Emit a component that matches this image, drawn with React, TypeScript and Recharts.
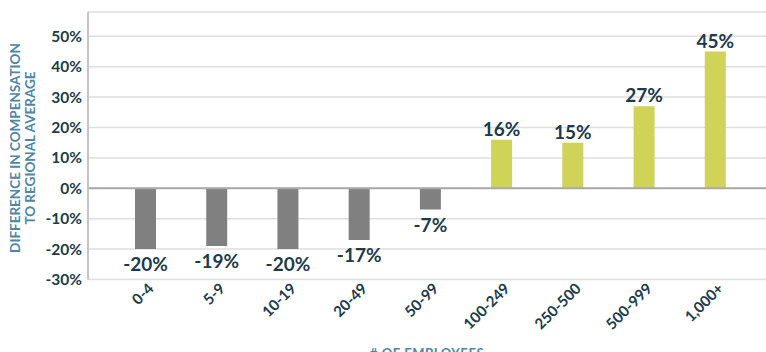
import React from "react";
import {
  BarChart,
  Bar,
  XAxis,
  YAxis,
  CartesianGrid,
  ReferenceLine,
  Cell,
  LabelList,
  Label,
} from "recharts";

const SIZES = ["0-4", "5-9", "10-19", "20-49", "50-99", "100-249", "250-500", "500-999", "1,000+"];
const DIFF_PCT = [-20, -19, -20, -17, -7, 16, 15, 27, 45];
const Y_TICKS = [-30, -20, -10, 0, 10, 20, 30, 40, 50];

const FONT = "Lato, 'Open Sans', sans-serif";
const NAVY = "#1c3a4a";
const STEEL = "#4f86a3";
const GRAY_BAR = "#808080";
const LIME_BAR = "#cfd356";

const data = SIZES.map((size, i) => ({ size, diff: DIFF_PCT[i] }));

function XTick(props: any) {
  const { x, y, payload } = props;
  const ax = x + 9;
  const ay = y + 10;
  return (
    <text
      x={ax}
      y={ay}
      transform={`rotate(-45 ${ax} ${ay})`}
      textAnchor="end"
      fontFamily={FONT}
      fontWeight={700}
      fontSize={15}
      fill={NAVY}
    >
      {payload.value}
    </text>
  );
}

function ValueLabel(props: any) {
  const { x, y, width, height, value } = props;
  const cx = x + width / 2;
  const top = Math.min(y, y + height);
  const bottom = Math.max(y, y + height);
  const ty = value >= 0 ? top - 4 : bottom + 22;
  return (
    <text
      x={cx}
      y={ty}
      textAnchor="middle"
      fontFamily={FONT}
      fontWeight={700}
      fontSize={19}
      fill={NAVY}
    >
      {`${value}%`}
    </text>
  );
}

function YTitle() {
  const cy = 148;
  const common = {
    fontFamily: FONT,
    fontWeight: 700,
    fontSize: 13.5,
    fill: STEEL,
    textAnchor: "middle" as const,
  };
  return (
    <g>
      <text {...common} x={20} y={cy} transform={`rotate(-90 20 ${cy})`}>
        DIFFERENCE IN COMPENSATION
      </text>
      <text {...common} x={35} y={cy} transform={`rotate(-90 35 ${cy})`}>
        TO REGIONAL AVERAGE
      </text>
    </g>
  );
}

function XTitle(props: any) {
  const { viewBox } = props;
  const cx = viewBox.x + viewBox.width / 2;
  return (
    <text
      x={cx}
      y={358}
      textAnchor="middle"
      fontFamily={FONT}
      fontWeight={700}
      fontSize={13}
      letterSpacing={0.6}
      fill={STEEL}
    >
      # OF EMPLOYEES
    </text>
  );
}

export default function App() {
  return (
    <div style={{ position: "absolute", left: 0, top: 0, width: 766, height: 352, background: "#fff", overflow: "hidden" }}>
      <BarChart
        width={766}
        height={352}
        data={data}
        margin={{ top: 12, right: 0, bottom: 0, left: 0 }}
        style={{ overflow: "hidden" }}
      >
        <CartesianGrid vertical={false} stroke="#dedede" strokeWidth={1.5} />
        <XAxis
          dataKey="size"
          height={72.5}
          axisLine={false}
          tickLine={false}
          tickSize={0}
          tickMargin={0}
          interval={0}
          padding={{ left: 22, right: 15 }}
          tick={<XTick />}
        >
          <Label content={<XTitle />} />
        </XAxis>
        <YAxis
          width={88}
          domain={[-30, 58]}
          ticks={Y_TICKS}
          allowDataOverflow
          tickFormatter={(v: number) => `${v}%`}
          tick={{ fontFamily: FONT, fontWeight: 700, fontSize: 15.5, fill: NAVY }}
          tickLine={false}
          tickSize={0}
          tickMargin={6}
          axisLine={{ stroke: "#c4c4c4", strokeWidth: 2 }}
        >
          <Label content={<YTitle />} />
        </YAxis>
        <ReferenceLine y={0} stroke="#a8a8a8" strokeWidth={2} />
        <Bar dataKey="diff" barSize={21} isAnimationActive={false}>
          {data.map((d) => (
            <Cell key={d.size} fill={d.diff < 0 ? GRAY_BAR : LIME_BAR} />
          ))}
          <LabelList dataKey="diff" content={<ValueLabel />} />
        </Bar>
      </BarChart>
    </div>
  );
}
